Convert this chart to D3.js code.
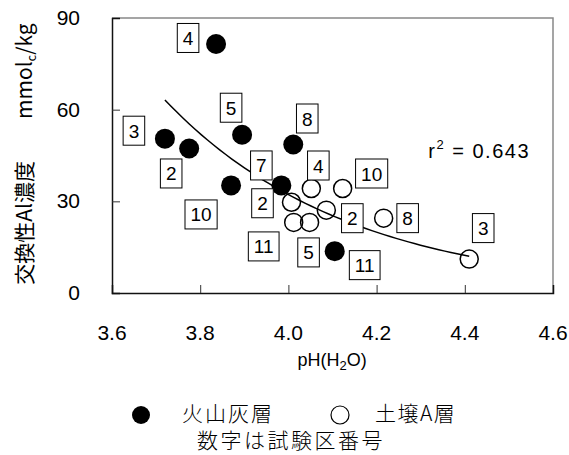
<!DOCTYPE html>
<html>
<head>
<meta charset="utf-8">
<script src="https://cdn.jsdelivr.net/npm/d3@7"></script>
<style>
body{margin:0;background:#fff;}
text{font-family:"Liberation Sans",Arial,sans-serif;fill:#000;}
.jp{font-family:"Noto Sans CJK JP",sans-serif;}
</style>
</head>
<body>
<script>
// 火山灰層 (filled)
const ashPH=[3.836,3.720,3.775,3.895,4.011,3.870,3.984,4.105];
const ashAl=[81.5,50.5,47.3,51.8,48.6,35.2,35.2,13.7];
const ashPlot=["4","3","2","5","8","10","7","11"];
// 土壌A層 (open)
const soilPH=[4.052,4.123,4.007,4.086,4.012,4.048,4.216,4.410];
const soilAl=[34.2,34.2,29.7,27.1,23.1,23.1,24.5,11.1];
const soilPlot=["4","10","2","2","11","5","8","3"];
const xTicks=[3.6,3.8,4.0,4.2,4.4,4.6];
const yTicks=[0,30,60,90];
// exponential trend y=a*exp(b*x), r2
const trendA=4.89e5,trendB=-2.407,r2="0.643";

// label box offsets from the point, px
const ashOff=[[-28,-6],[-31,-8],[-18,25],[-11,-27],[14,-26],[-30,29],[-20,-20],[30,14]];
const soilOff=[[7,-23],[29,-15],[-29,1],[26,8],[-30,24],[-1,30],[24,0],[14,-31]];

const w=569,h=455;
const svg=d3.select("body").append("svg").attr("width",w).attr("height",h);
const x=d3.scaleLinear().domain([3.6,4.6]).range([112,553]);
const y=d3.scaleLinear().domain([0,90]).range([293,18]);

// frame
svg.append("path").attr("d",`M${x(3.6)},${y(90)}H${x(4.6)}V${y(0)}`)
  .attr("fill","none").attr("stroke","#888").attr("stroke-width",1.5);

const yAx=svg.append("g").attr("transform",`translate(${x(3.6)},0)`)
  .call(d3.axisRight(y).tickValues(yTicks).tickSize(8).tickFormat(""));
const xAx=svg.append("g").attr("transform",`translate(0,${y(0)})`)
  .call(d3.axisTop(x).tickValues(xTicks).tickSize(8).tickFormat(""));
[yAx,xAx].forEach(g=>{
  g.select(".domain").attr("stroke","#111").attr("stroke-width",1.5);
  g.selectAll(".tick line").attr("stroke","#333");
});
xAx.selectAll(".tick").filter(d=>d==3.6||d==4.6).remove();
yAx.selectAll(".tick").filter(d=>d==0||d==90).remove();

svg.selectAll(".xl").data(xTicks).join("text")
  .attr("x",d=>x(d)).attr("y",y(0)+47).attr("text-anchor","middle")
  .style("font-size","21px").text(d=>d.toFixed(1));
svg.selectAll(".yl").data(yTicks).join("text")
  .attr("x",80).attr("y",d=>y(d)+7).attr("text-anchor","end")
  .style("font-size","21px").text(d=>d);

const xt=svg.append("text").attr("x",332).attr("y",366).attr("text-anchor","middle").style("font-size","18px");
xt.append("tspan").text("pH(H");
xt.append("tspan").attr("dy",4).style("font-size","13px").text("2");
xt.append("tspan").attr("dy",-4).text("O)");

const yt=svg.append("text").attr("class","jp").attr("transform","translate(32,154) rotate(-90)")
  .attr("text-anchor","middle").style("font-size","21px");
yt.append("tspan").text("交換性Al濃度　　mmol");
yt.append("tspan").attr("dy",4).style("font-size","13px").text("c");
yt.append("tspan").attr("dy",-4).text("/kg");

// trend line
const allPH=ashPH.concat(soilPH);
const [x0,x1]=d3.extent(allPH);
const tr=d3.range(0,51).map(i=>x0+(x1-x0)*i/50);
svg.append("path").datum(tr)
  .attr("d",d3.line().x(d=>x(d)).y(d=>y(trendA*Math.exp(trendB*d))))
  .attr("fill","none").attr("stroke","#000").attr("stroke-width",1.5);

const ash=ashPH.map((p,i)=>({p,a:ashAl[i],n:ashPlot[i],o:ashOff[i],f:true}));
const soil=soilPH.map((p,i)=>({p,a:soilAl[i],n:soilPlot[i],o:soilOff[i],f:false}));

svg.selectAll(".ash").data(ash).join("circle")
  .attr("cx",d=>x(d.p)).attr("cy",d=>y(d.a)).attr("r",10).attr("fill","#000");
svg.selectAll(".soil").data(soil).join("circle")
  .attr("cx",d=>x(d.p)).attr("cy",d=>y(d.a)).attr("r",9)
  .attr("fill","none").attr("stroke","#000").attr("stroke-width",1.5);

const lab=svg.selectAll(".lab").data(ash.concat(soil)).join("g")
  .attr("transform",d=>`translate(${x(d.p)+d.o[0]},${y(d.a)+d.o[1]})`);
lab.append("rect").attr("fill","#fff").attr("stroke","#000").attr("stroke-width",1);
lab.append("text").attr("text-anchor","middle").attr("y",7).style("font-size","19px").text(d=>d.n);
lab.each(function(){
  const g=d3.select(this);
  const tw=g.select("text").node().getComputedTextLength()+11;
  g.select("rect").attr("x",-tw/2).attr("y",-14.5).attr("width",tw).attr("height",29);
});

const rt=svg.append("text").attr("x",530).attr("y",158).attr("text-anchor","end")
  .style("font-size","20px").style("letter-spacing","1.5px");
rt.append("tspan").text("r");
rt.append("tspan").attr("dy",-9).style("font-size","13px").text("2");
rt.append("tspan").attr("dy",9).text(" = "+r2);

// legend
svg.append("circle").attr("cx",141).attr("cy",415).attr("r",9).attr("fill","#000");
svg.append("circle").attr("cx",340).attr("cy",415).attr("r",9).attr("fill","none").attr("stroke","#000").attr("stroke-width",1.2);
svg.append("text").attr("class","jp").attr("x",182).attr("y",421).style("font-size","21px")
  .style("font-weight",300).style("letter-spacing","2px").text("火山灰層");
svg.append("text").attr("class","jp").attr("x",375).attr("y",421).style("font-size","21px")
  .style("font-weight",300).style("letter-spacing","1.5px").text("土壌A層");
svg.append("text").attr("class","jp").attr("x",291).attr("y",448).attr("text-anchor","middle")
  .style("font-size","21px").style("font-weight",300).style("letter-spacing","2.5px").text("数字は試験区番号");
</script>
</body>
</html>
